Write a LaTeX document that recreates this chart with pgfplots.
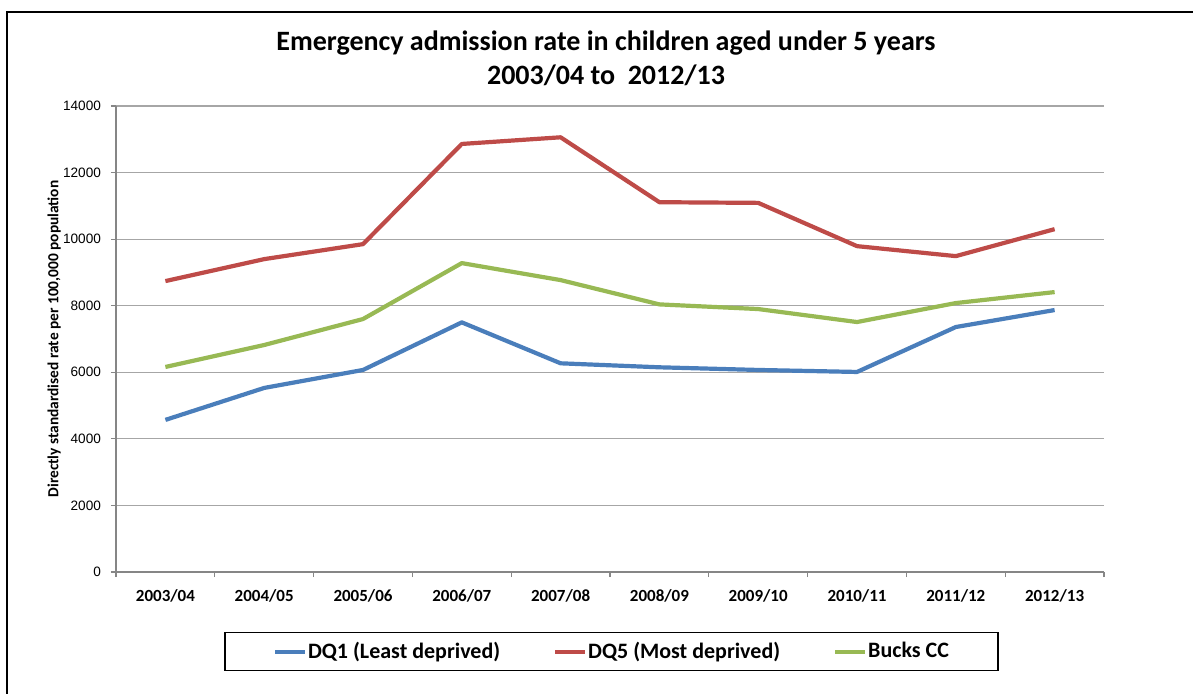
\documentclass[border=0pt]{standalone}
\usepackage{pgfplots}
\pgfplotsset{compat=1.18}
\usepackage{fontspec}
\setmainfont{Carlito}
\newfontfamily\arialf{Liberation Sans}
\definecolor{dqone}{HTML}{4A7EBB}
\definecolor{dqfive}{HTML}{BE4B48}
\definecolor{bucks}{HTML}{98B954}
\definecolor{gridc}{HTML}{A6A6A6}
\definecolor{axc}{HTML}{868686}
\begin{document}
\begin{tikzpicture}
\useasboundingbox (0,0) rectangle (596.5pt,346.5pt);
\draw[line width=1.3pt] (3.5pt,-5pt) -- (3.5pt,340.5pt) -- (605pt,340.5pt);
\node[font=\bfseries\fontsize{14}{16}\selectfont, anchor=base] at (303pt,321.5pt) {Emergency admission rate in children aged under 5 years};
\node[font=\bfseries\fontsize{14}{16}\selectfont, anchor=base] at (303pt,304.5pt) {2003/04 to\ \ 2012/13};
\begin{axis}[
  at={(58pt,60.5pt)}, anchor=south west,
  scale only axis, width=494pt, height=233pt,
  xmin=-0.5, xmax=9.5, ymin=0, ymax=14000,
  xtick={-0.5,0.5,...,9.5},
  x tick label as interval,
  xticklabels={2003/04,2004/05,2005/06,2006/07,2007/08,2008/09,2009/10,2010/11,2011/12,2012/13},
  ytick={0,2000,...,14000},
  scaled y ticks=false,
  axis x line*=bottom, axis y line*=left,
  ymajorgrids, grid style={gridc, line width=0.6pt},
  tick align=outside, major tick length=2.5pt,
  tick style={axc, line width=0.6pt},
  axis line style={axc, line width=0.7pt},
  yticklabel style={font=\arialf\fontsize{6.8}{7.5}\selectfont, xshift=-1.5pt},
  xticklabel style={font=\bfseries\fontsize{8.5}{9}\selectfont, yshift=-2.5pt},
  /pgf/number format/assume math mode=true,
  /pgf/number format/1000 sep={},
  ylabel={Directly standardised rate per 100,000 population},
  every axis y label/.style={at={(axis description cs:-0.0625,0.5)}, rotate=90, anchor=center,
    font=\bfseries\fontsize{7.7}{8.5}\selectfont},
  legend columns=3,
  legend style={at={(axis description cs:0.5015,-0.1706)}, anchor=center, draw=black, line width=0.6pt,
    font=\bfseries\fontsize{11}{12}\selectfont, inner xsep=24pt, inner ysep=2.5pt,
    /tikz/every even column/.append style={column sep=26pt},
    nodes={inner xsep=0.5pt}},
  legend image code/.code={\draw[#1, line width=2pt] (0pt,0pt) -- (15pt,0pt);},
  every axis plot/.append style={line width=2.1pt, line join=round},
]
\addplot[dqone] coordinates {(0,4570) (1,5530) (2,6070) (3,7500) (4,6270) (5,6150) (6,6070) (7,6010) (8,7360) (9,7870)};
\addlegendentry{DQ1 (Least deprived)}
\addplot[dqfive] coordinates {(0,8740) (1,9400) (2,9850) (3,12860) (4,13060) (5,11110) (6,11090) (7,9790) (8,9490) (9,10300)};
\addlegendentry{DQ5 (Most deprived)}
\addplot[bucks] coordinates {(0,6160) (1,6820) (2,7600) (3,9280) (4,8770) (5,8040) (6,7900) (7,7510) (8,8080) (9,8410)};
\addlegendentry{Bucks CC}
\end{axis}
\end{tikzpicture}
\end{document}
